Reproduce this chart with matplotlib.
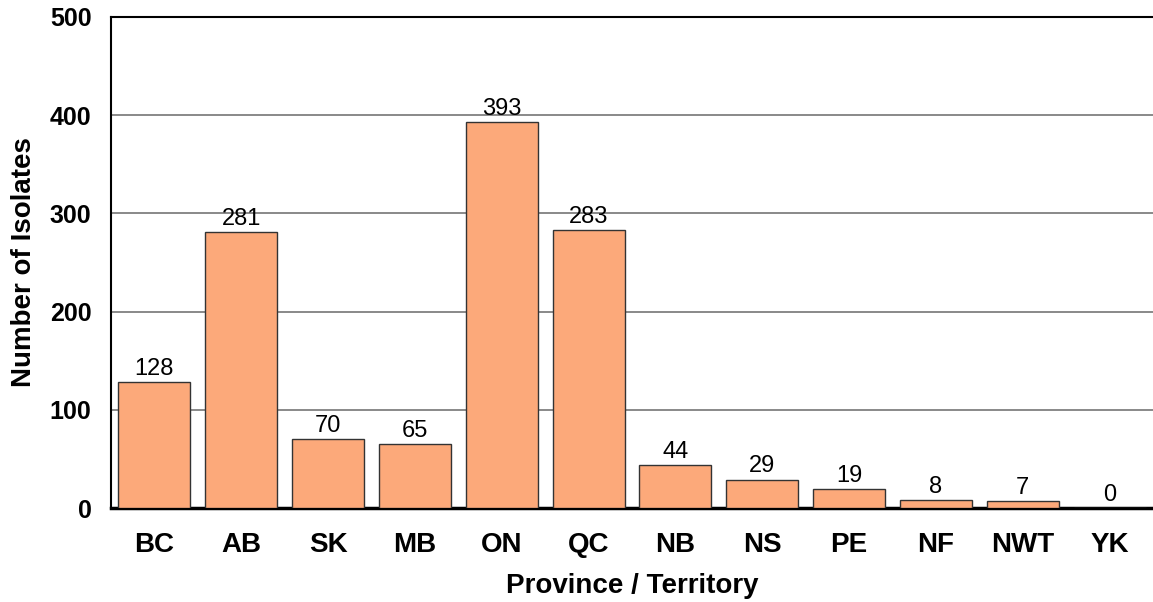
import matplotlib.pyplot as plt

plt.rcParams['font.family'] = ['Liberation Sans', 'DejaVu Sans']

provinces = ['BC', 'AB', 'SK', 'MB', 'ON', 'QC', 'NB', 'NS', 'PE', 'NF', 'NWT', 'YK']
isolates = [128, 281, 70, 65, 393, 283, 44, 29, 19, 8, 7, 0]

fig = plt.figure(figsize=(11.53, 6.02), dpi=100)
ax = fig.add_axes([111 / 1153, 1 - 508 / 602, 1 - 111 / 1153, (508 - 17) / 602])

x = range(len(provinces))
ax.bar(x, isolates, width=0.83, color='#FCA97A', edgecolor='#333333', linewidth=1, zorder=3)

# value above each bar
for xi, v in zip(x, isolates):
    ax.annotate(str(v), (xi, v), xytext=(0, 1.5), textcoords='offset points',
                ha='center', va='bottom', fontsize=17, zorder=4)

ax.set_xlim(-0.5, len(provinces) - 0.5)
ax.set_ylim(0, 500)
ax.set_yticks([0, 100, 200, 300, 400, 500])
ax.yaxis.grid(True, color='#808080', linewidth=1.3, zorder=0)
ax.set_axisbelow(True)

ax.spines['right'].set_visible(False)
ax.spines['top'].set_linewidth(1.5)
ax.spines['left'].set_linewidth(1.5)
ax.spines['bottom'].set_linewidth(2.5)

ax.set_xticks(list(x))
ax.set_xticklabels(provinces)
ax.tick_params(axis='both', length=0)
ax.tick_params(axis='y', pad=14, labelsize=18)
ax.tick_params(axis='x', pad=17, labelsize=20)
for lbl in ax.get_xticklabels() + ax.get_yticklabels():
    lbl.set_fontweight('bold')

ax.set_xlabel('Province / Territory', fontsize=20, fontweight='bold', labelpad=11)
ax.set_ylabel('Number of Isolates', fontsize=20, fontweight='bold', labelpad=9)

fig.savefig('out.png', dpi=100)
